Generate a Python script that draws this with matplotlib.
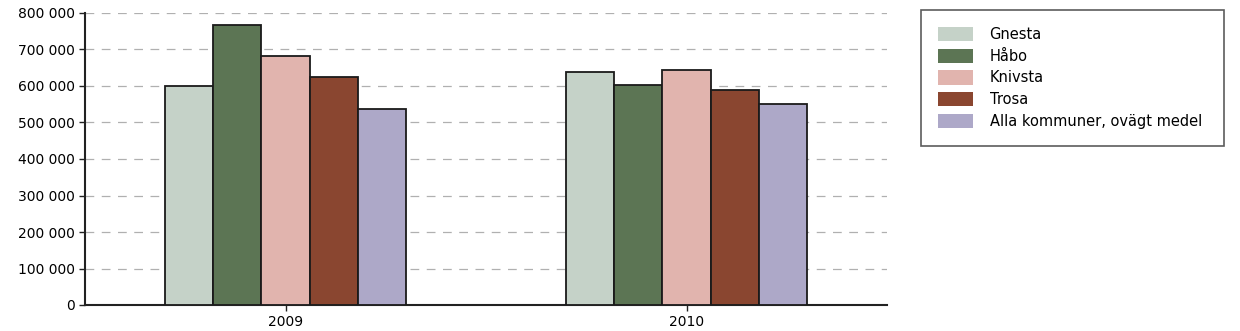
import numpy as np
import matplotlib.pyplot as plt
from matplotlib.patches import Patch
from matplotlib.ticker import FuncFormatter

years = ['2009', '2010']
kommuner = ['Gnesta', 'Håbo', 'Knivsta', 'Trosa', 'Alla kommuner, ovägt medel']
values = {
    'Gnesta': [600000, 638000],
    'Håbo': [768000, 604000],
    'Knivsta': [683000, 644000],
    'Trosa': [624000, 589000],
    'Alla kommuner, ovägt medel': [538000, 551000],
}
colors = ['#c5d2c8', '#5c7554', '#e1b4ae', '#8a4630', '#ada8c8']

plt.rcParams['font.family'] = 'DejaVu Sans'
fig = plt.figure(figsize=(12.4, 3.31), dpi=100)
ax = fig.add_axes([85 / 1240, 1 - 305 / 331, 802 / 1240, 292 / 331])

x = np.arange(len(years))
w = 0.12
for i, k in enumerate(kommuner):
    ax.bar(x + (i - 2) * w, values[k], w, color=colors[i],
           edgecolor='#1a1a1a', linewidth=1.3, zorder=3)

ax.set_xlim(-0.5, 1.5)
ax.set_ylim(0, 800000)
ax.set_yticks(np.arange(0, 800001, 100000))
ax.yaxis.set_major_formatter(FuncFormatter(lambda v, p: f'{int(v):,}'.replace(',', ' ')))
ax.set_xticks(x)
ax.set_xticklabels(years)
ax.tick_params(axis='both', labelsize=10, length=4, width=1, color='#222222')
ax.grid(axis='y', color='#b0b0b0', linestyle=(0, (7, 6)), linewidth=0.9, zorder=0)
for s in ['top', 'right']:
    ax.spines[s].set_visible(False)
for s in ['left', 'bottom']:
    ax.spines[s].set_linewidth(1.5)
    ax.spines[s].set_color('#222222')

handles = [Patch(facecolor=c, edgecolor='none') for c in colors]
leg = fig.legend(handles, kommuner, loc='upper left',
                 bbox_to_anchor=(921 / 1240, 1 - 141 / 331, 303 / 1240, 131 / 331),
                 mode='expand', fontsize=10.5, frameon=True, fancybox=False,
                 edgecolor='#333333', handlelength=2.4, handleheight=1.15,
                 labelspacing=0.45, handletextpad=1.15, borderpad=1.15,
                 borderaxespad=0)
leg.get_frame().set_linewidth(1.2)

fig.savefig('out.png', dpi=100)
